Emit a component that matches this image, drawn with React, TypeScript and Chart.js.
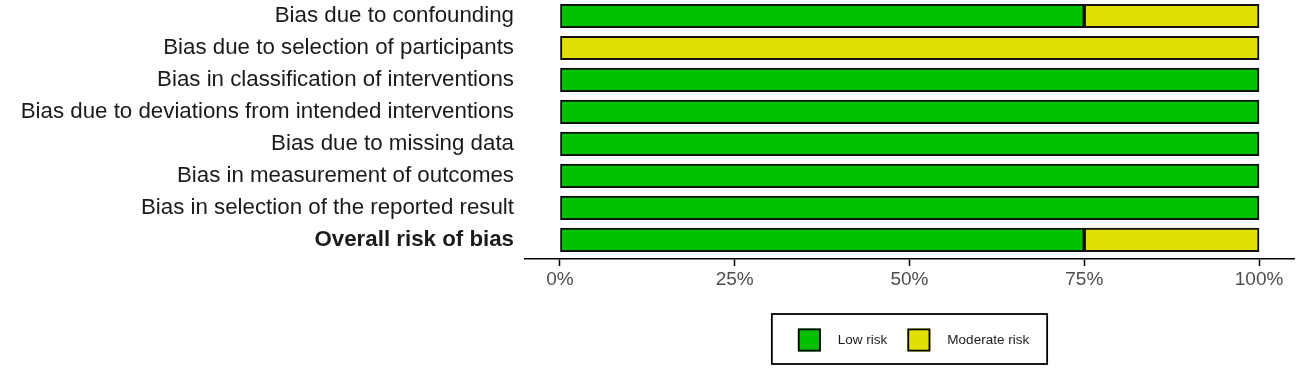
import React, { useEffect, useRef } from "react";
import { Chart, registerables } from "chart.js";

Chart.register(...registerables);

const categories = [
  "Bias due to confounding",
  "Bias due to selection of participants",
  "Bias in classification of interventions",
  "Bias due to deviations from intended interventions",
  "Bias due to missing data",
  "Bias in measurement of outcomes",
  "Bias in selection of the reported result",
  "Overall risk of bias",
];
const lowRisk = [75, 0, 100, 100, 100, 100, 100, 75];
const moderateRisk = [25, 100, 0, 0, 0, 0, 0, 25];
const xTicks = [0, 25, 50, 75, 100];
const seriesNames = ["Low risk", "Moderate risk"];
const seriesColors = ["#02C100", "#E2DF07"];

const FONT = "'Liberation Sans', Arial, Helvetica, sans-serif";
const Y_MIN = -0.5;
const Y_MAX = 7.6;

const legendPlugin = {
  id: "boxLegend",
  afterDraw(chart: any) {
    const ctx = chart.ctx;
    const area = chart.chartArea;
    ctx.save();
    ctx.font = `13.5px ${FONT}`;
    const sq = 23;
    const padL = 26, padR = 18, gapText = 17, gapItem = 20;
    const widths = chart.data.datasets.map((d: any) => ctx.measureText(d.label).width);
    let total = padL + padR;
    widths.forEach((w: number, i: number) => {
      total += sq + gapText + w + (i < widths.length - 1 ? gapItem : 0);
    });
    const h = 50;
    const cx = (area.left + area.right) / 2;
    const left = cx - total / 2;
    const top = 314;
    ctx.lineWidth = 1.8;
    ctx.strokeStyle = "#000";
    ctx.strokeRect(left, top, total, h);
    let x = left + padL;
    const midY = top + h / 2 + 1;
    chart.data.datasets.forEach((d: any, i: number) => {
      ctx.fillStyle = d.backgroundColor;
      ctx.fillRect(x, midY - sq / 2, sq, sq);
      ctx.lineWidth = 1.8;
      ctx.strokeRect(x + 0.9, midY - sq / 2 + 0.9, sq - 1.8, sq - 1.8);
      x += sq + gapText;
      ctx.fillStyle = "#1A1A1A";
      ctx.textBaseline = "middle";
      ctx.textAlign = "left";
      ctx.fillText(d.label, x, midY);
      x += widths[i] + gapItem;
    });
    ctx.restore();
  },
};

export default function App() {
  const ref = useRef<HTMLCanvasElement>(null);
  useEffect(() => {
    document.body.style.margin = "0";
    const canvas = ref.current!;
    const series = [lowRisk, moderateRisk];
    const chart = new Chart(canvas, {
      type: "bar",
      data: {
        datasets: series.map((vals, s) => ({
          label: seriesNames[s],
          data: vals.map((v, i) => ({ x: v, y: i })),
          backgroundColor: seriesColors[s],
          borderColor: "#111",
          borderWidth: 2,
          borderSkipped: false,
          barThickness: 23.5,
        })),
      },
      options: {
        indexAxis: "y",
        animation: false,
        responsive: false,
        maintainAspectRatio: false,
        layout: { padding: { top: 0, bottom: 75, left: 0, right: 13 } },
        plugins: { legend: { display: false }, tooltip: { enabled: false } },
        scales: {
          x: {
            type: "linear",
            stacked: true,
            min: -5,
            max: 105,
            afterBuildTicks: (scale: any) => {
              scale.ticks = xTicks.map((v) => ({ value: v }));
            },
            afterFit: (scale: any) => {
              scale.height = 40;
            },
            ticks: {
              callback: (v: any) => `${v}%`,
              color: "#4D4D4D",
              font: { size: 19, family: FONT },
              padding: 2,
              maxRotation: 0,
            },
            grid: {
              drawOnChartArea: false,
              drawTicks: true,
              tickLength: 7,
              tickColor: "#000",
              tickWidth: 1.5,
            },
            border: { display: true, color: "#000", width: 1.5 },
          },
          y: {
            type: "linear",
            stacked: true,
            reverse: true,
            offset: false,
            bounds: "data",
            min: Y_MIN,
            max: Y_MAX,
            afterBuildTicks: (scale: any) => {
              scale.ticks = categories.map((_, i) => ({ value: i }));
            },
            afterFit: (scale: any) => {
              scale.width = 525;
              scale.paddingTop = 0;
              scale.paddingBottom = 0;
            },
            ticks: {
              callback: (v: any) => categories[v as number] ?? "",
              color: "#1A1A1A",
              font: (c: any) => ({
                size: 22.3,
                family: FONT,
                weight: c.index === categories.length - 1 ? "bold" : "normal",
              }),
              padding: 11,
              autoSkip: false,
            },
            grid: { display: false, drawTicks: false, offset: false },
            border: { display: false },
          },
        },
      },
      plugins: [legendPlugin],
    } as any);
    return () => chart.destroy();
  }, []);
  return (
    <div style={{ width: 1307, height: 374 }}>
      <canvas ref={ref} width={1307} height={374} />
    </div>
  );
}
